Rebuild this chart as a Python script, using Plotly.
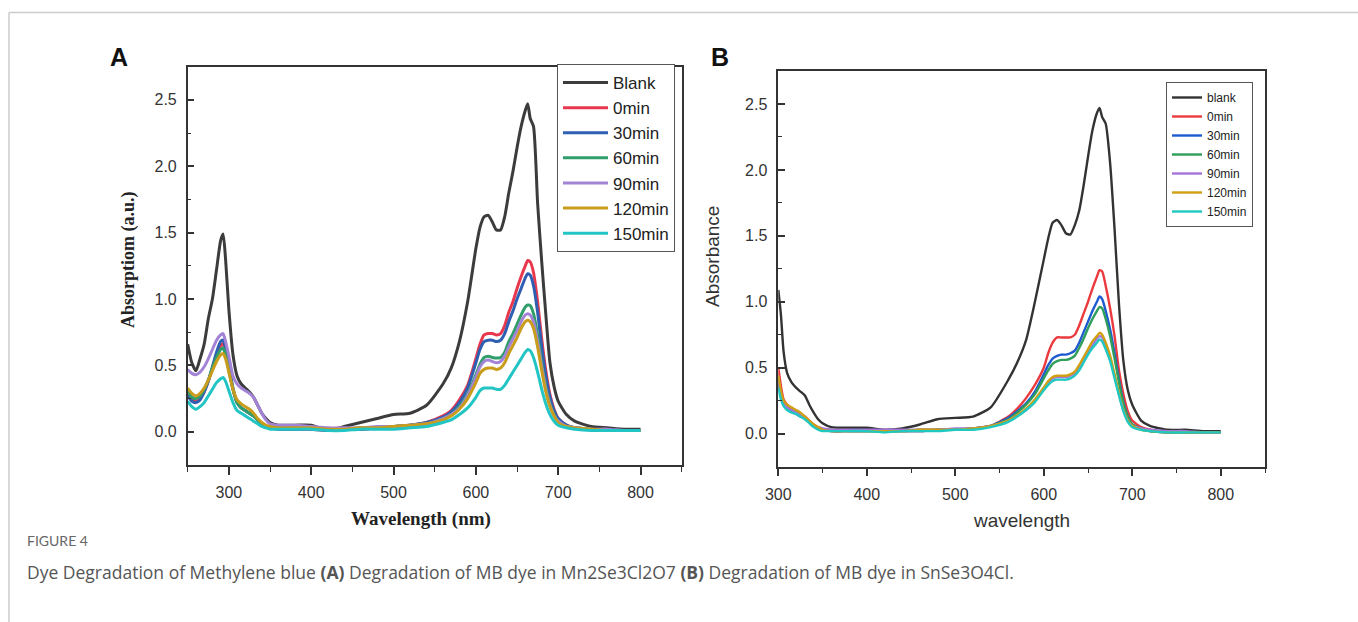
import plotly.graph_objects as go

# ---------------- Panel A data (Mn2Se3Cl2O7) ----------------
wl_a = [250, 255, 260, 265, 270, 275, 280, 285, 290, 293, 296, 300,
        305, 310, 315, 320, 325, 330, 335, 340, 345, 350,
        360, 380, 400, 420, 440, 460, 480, 500, 520, 540,
        560, 570, 580, 590, 600, 605, 610, 615, 620, 625,
        630, 635, 640, 645, 650, 655, 660, 663, 666, 670,
        675, 680, 685, 690, 695, 700, 710, 720, 740, 760, 780, 800]

a_blank = [0.66, 0.52, 0.46, 0.55, 0.66, 0.85, 1.00, 1.22, 1.44, 1.49, 1.30, 0.92,
           0.58, 0.42, 0.36, 0.33, 0.30, 0.26, 0.20, 0.14, 0.10, 0.07,
           0.05, 0.05, 0.05, 0.01, 0.04, 0.07, 0.10, 0.13, 0.14, 0.20,
           0.36, 0.48, 0.68, 0.98, 1.38, 1.54, 1.62, 1.63, 1.58, 1.52,
           1.52, 1.62, 1.80, 1.96, 2.14, 2.30, 2.42, 2.47, 2.36, 2.30,
           1.72, 1.28, 0.88, 0.52, 0.34, 0.23, 0.13, 0.08, 0.04, 0.03, 0.02, 0.02]
a_0 = [0.29, 0.25, 0.23, 0.25, 0.30, 0.38, 0.48, 0.58, 0.65, 0.66, 0.60, 0.48,
       0.32, 0.22, 0.18, 0.16, 0.14, 0.12, 0.09, 0.06, 0.04, 0.03,
       0.02, 0.02, 0.02, 0.01, 0.02, 0.02, 0.03, 0.04, 0.05, 0.07,
       0.12, 0.16, 0.24, 0.35, 0.55, 0.66, 0.73, 0.74, 0.74, 0.73,
       0.74, 0.80, 0.90, 0.98, 1.08, 1.17, 1.25, 1.29, 1.28, 1.20,
       0.98, 0.70, 0.46, 0.28, 0.17, 0.10, 0.05, 0.03, 0.02, 0.01, 0.01, 0.01]
a_30 = [0.27, 0.23, 0.22, 0.24, 0.30, 0.38, 0.49, 0.60, 0.68, 0.69, 0.63, 0.50,
        0.33, 0.22, 0.18, 0.16, 0.14, 0.12, 0.09, 0.06, 0.04, 0.03,
        0.02, 0.02, 0.02, 0.01, 0.02, 0.02, 0.03, 0.04, 0.05, 0.07,
        0.11, 0.15, 0.22, 0.33, 0.52, 0.62, 0.68, 0.69, 0.69, 0.68,
        0.69, 0.74, 0.83, 0.91, 1.00, 1.08, 1.16, 1.19, 1.18, 1.10,
        0.90, 0.64, 0.42, 0.26, 0.16, 0.10, 0.05, 0.03, 0.02, 0.01, 0.01, 0.01]
a_60 = [0.31, 0.26, 0.25, 0.27, 0.32, 0.39, 0.48, 0.56, 0.62, 0.63, 0.58, 0.46,
        0.32, 0.22, 0.18, 0.16, 0.14, 0.12, 0.09, 0.06, 0.04, 0.03,
        0.03, 0.03, 0.03, 0.02, 0.02, 0.03, 0.03, 0.04, 0.05, 0.06,
        0.10, 0.13, 0.19, 0.28, 0.43, 0.51, 0.56, 0.57, 0.56, 0.555,
        0.56, 0.60, 0.68, 0.74, 0.81, 0.88, 0.94, 0.955, 0.95, 0.89,
        0.73, 0.52, 0.34, 0.21, 0.13, 0.08, 0.04, 0.03, 0.02, 0.01, 0.01, 0.01]
a_90 = [0.47, 0.44, 0.43, 0.45, 0.49, 0.55, 0.62, 0.69, 0.73, 0.74, 0.68, 0.57,
        0.42, 0.36, 0.33, 0.31, 0.29, 0.26, 0.20, 0.14, 0.09, 0.06,
        0.05, 0.05, 0.04, 0.03, 0.03, 0.03, 0.04, 0.04, 0.05, 0.06,
        0.10, 0.13, 0.18, 0.27, 0.41, 0.49, 0.53, 0.54, 0.53, 0.52,
        0.53, 0.57, 0.64, 0.70, 0.76, 0.83, 0.88, 0.89, 0.88, 0.83,
        0.68, 0.49, 0.32, 0.20, 0.12, 0.08, 0.04, 0.03, 0.02, 0.02, 0.01, 0.01]
a_120 = [0.33, 0.29, 0.27, 0.29, 0.33, 0.39, 0.46, 0.53, 0.58, 0.59, 0.55, 0.45,
         0.32, 0.24, 0.21, 0.19, 0.17, 0.14, 0.10, 0.07, 0.05, 0.04,
         0.03, 0.03, 0.03, 0.02, 0.02, 0.03, 0.03, 0.04, 0.05, 0.06,
         0.09, 0.12, 0.17, 0.25, 0.37, 0.44, 0.47, 0.48, 0.48, 0.47,
         0.48, 0.52, 0.59, 0.65, 0.71, 0.78, 0.83, 0.84, 0.83, 0.78,
         0.64, 0.46, 0.30, 0.19, 0.12, 0.07, 0.04, 0.03, 0.02, 0.01, 0.01, 0.01]
a_150 = [0.23, 0.19, 0.17, 0.19, 0.22, 0.27, 0.32, 0.37, 0.40, 0.41, 0.38, 0.31,
         0.22, 0.16, 0.14, 0.12, 0.10, 0.08, 0.06, 0.04, 0.03, 0.02,
         0.02, 0.02, 0.02, 0.01, 0.01, 0.02, 0.02, 0.02, 0.03, 0.04,
         0.07, 0.09, 0.13, 0.18, 0.26, 0.31, 0.33, 0.33, 0.33, 0.32,
         0.32, 0.35, 0.40, 0.45, 0.50, 0.55, 0.60, 0.62, 0.61, 0.56,
         0.45, 0.32, 0.21, 0.13, 0.08, 0.05, 0.03, 0.02, 0.01, 0.01, 0.01, 0.01]

# ---------------- Panel B data (SnSe3O4Cl) ----------------
wl_b = [300, 303, 306, 310, 315, 320, 325, 330, 335, 340,
        345, 350, 360, 380, 400, 420, 440, 460, 480, 500,
        520, 540, 560, 570, 580, 590, 600, 605, 610, 615,
        620, 625, 630, 635, 640, 645, 650, 655, 660, 663,
        666, 670, 675, 680, 685, 690, 695, 700, 710, 720,
        740, 760, 780, 800]

b_blank = [1.09, 0.90, 0.62, 0.46, 0.39, 0.35, 0.32, 0.29, 0.22, 0.16,
           0.11, 0.08, 0.05, 0.045, 0.045, 0.03, 0.04, 0.07, 0.11, 0.12,
           0.13, 0.20, 0.41, 0.54, 0.71, 1.00, 1.32, 1.48, 1.60, 1.62,
           1.58, 1.52, 1.51, 1.58, 1.69, 1.88, 2.10, 2.30, 2.43, 2.47,
           2.40, 2.35, 2.05, 1.55, 0.98, 0.55, 0.33, 0.22, 0.10, 0.06,
           0.03, 0.03, 0.02, 0.02]
b_0 = [0.50, 0.36, 0.26, 0.22, 0.19, 0.17, 0.15, 0.13, 0.10, 0.07,
       0.05, 0.03, 0.02, 0.02, 0.02, 0.02, 0.02, 0.02, 0.03, 0.03,
       0.04, 0.06, 0.13, 0.19, 0.27, 0.37, 0.50, 0.61, 0.69, 0.73,
       0.73, 0.73, 0.73, 0.75, 0.82, 0.91, 1.00, 1.10, 1.19, 1.24,
       1.23, 1.12, 0.95, 0.74, 0.48, 0.30, 0.17, 0.10, 0.05, 0.03,
       0.01, 0.01, 0.01, 0.01]
b_30 = [0.38, 0.28, 0.22, 0.19, 0.17, 0.15, 0.13, 0.12, 0.09, 0.06,
        0.04, 0.03, 0.02, 0.02, 0.02, 0.02, 0.02, 0.02, 0.03, 0.03,
        0.04, 0.06, 0.12, 0.17, 0.23, 0.32, 0.45, 0.52, 0.57, 0.59,
        0.60, 0.60, 0.61, 0.63, 0.69, 0.77, 0.85, 0.93, 1.00, 1.04,
        1.02, 0.93, 0.79, 0.61, 0.41, 0.24, 0.13, 0.07, 0.04, 0.02,
        0.01, 0.01, 0.01, 0.01]
b_60 = [0.42, 0.30, 0.23, 0.20, 0.18, 0.16, 0.14, 0.12, 0.09, 0.06,
        0.04, 0.03, 0.03, 0.02, 0.02, 0.02, 0.02, 0.03, 0.03, 0.03,
        0.04, 0.06, 0.11, 0.16, 0.22, 0.30, 0.42, 0.48, 0.53, 0.55,
        0.56, 0.56, 0.57, 0.59, 0.65, 0.72, 0.80, 0.87, 0.93, 0.96,
        0.95, 0.87, 0.74, 0.57, 0.39, 0.23, 0.13, 0.07, 0.04, 0.02,
        0.01, 0.01, 0.01, 0.01]
b_90 = [0.40, 0.29, 0.23, 0.20, 0.18, 0.16, 0.14, 0.12, 0.09, 0.06,
        0.05, 0.04, 0.03, 0.03, 0.03, 0.03, 0.03, 0.03, 0.03, 0.04,
        0.04, 0.06, 0.10, 0.14, 0.18, 0.25, 0.34, 0.39, 0.42, 0.43,
        0.43, 0.43, 0.44, 0.46, 0.51, 0.56, 0.62, 0.67, 0.72, 0.74,
        0.73, 0.67, 0.57, 0.44, 0.30, 0.18, 0.10, 0.06, 0.04, 0.03,
        0.02, 0.02, 0.01, 0.01]
b_120 = [0.44, 0.32, 0.25, 0.22, 0.20, 0.18, 0.16, 0.13, 0.10, 0.07,
         0.05, 0.03, 0.02, 0.02, 0.02, 0.02, 0.02, 0.03, 0.03, 0.03,
         0.04, 0.06, 0.10, 0.14, 0.19, 0.26, 0.35, 0.40, 0.43, 0.44,
         0.44, 0.44, 0.45, 0.47, 0.52, 0.58, 0.64, 0.70, 0.74, 0.765,
         0.75, 0.69, 0.59, 0.45, 0.31, 0.18, 0.10, 0.06, 0.03, 0.02,
         0.01, 0.01, 0.01, 0.01]
b_150 = [0.35, 0.26, 0.21, 0.18, 0.16, 0.15, 0.13, 0.11, 0.08, 0.05,
         0.03, 0.02, 0.02, 0.02, 0.02, 0.01, 0.02, 0.02, 0.02, 0.03,
         0.03, 0.05, 0.09, 0.13, 0.18, 0.24, 0.33, 0.37, 0.40, 0.41,
         0.41, 0.41, 0.42, 0.44, 0.48, 0.54, 0.60, 0.65, 0.69, 0.715,
         0.70, 0.64, 0.55, 0.42, 0.29, 0.17, 0.09, 0.05, 0.03, 0.02,
         0.01, 0.01, 0.01, 0.01]

names_a = ["Blank", "0min", "30min", "60min", "90min", "120min", "150min"]
names_b = ["blank", "0min", "30min", "60min", "90min", "120min", "150min"]
series_a = [a_blank, a_0, a_30, a_60, a_90, a_120, a_150]
series_b = [b_blank, b_0, b_30, b_60, b_90, b_120, b_150]
colors_a = ["#3c3c3c", "#e8384e", "#2f5fb3", "#2f9e6a", "#a283d6", "#c99c1c", "#22c4c4"]
colors_b = ["#333333", "#ea3a3e", "#1e5bd0", "#2e9e5a", "#a474dc", "#d0a012", "#1fc8c0"]

x_ticks = [300, 400, 500, 600, 700, 800]
y_ticks = [0.0, 0.5, 1.0, 1.5, 2.0, 2.5]

W, H = 1358, 622


def px(x):
    return x / W


def py(y):
    return 1 - y / H


fig = go.Figure()
for name, ys, c in zip(names_a, series_a, colors_a):
    fig.add_trace(go.Scatter(x=wl_a, y=ys, name=name, mode="lines",
                             line=dict(color=c, width=3, shape="spline", smoothing=0.6),
                             xaxis="x", yaxis="y", legend="legend"))
for name, ys, c in zip(names_b, series_b, colors_b):
    fig.add_trace(go.Scatter(x=wl_b, y=ys, name=name, mode="lines",
                             line=dict(color=c, width=2.4, shape="spline", smoothing=0.6),
                             xaxis="x2", yaxis="y2", legend="legend2"))

axis_common = dict(showline=True, linecolor="#333333", linewidth=1.5, mirror=True,
                   showgrid=False, zeroline=False, automargin=False,
                   tickfont=dict(family="Liberation Sans, Arial, sans-serif", size=16, color="#333333"),
                   tickcolor="#333333", tickwidth=1.5)

xa = dict(axis_common, tickvals=x_ticks, ticks="outside", ticklen=8,
          ticklabelstandoff=4,
          minor=dict(dtick=50, tick0=250, ticks="outside", ticklen=5, tickcolor="#333333", tickwidth=1.2))
ya = dict(axis_common, tickvals=y_ticks, tickformat=".1f", ticks="inside", ticklen=7,
          ticklabelstandoff=6, range=[-0.25, 2.75],
          minor=dict(dtick=0.25, tick0=0, ticks="inside", ticklen=4, tickcolor="#333333", tickwidth=1.2))

fig.update_layout(
    width=W, height=H, autosize=False,
    margin=dict(l=0, r=0, t=0, b=0, autoexpand=False),
    paper_bgcolor="white", plot_bgcolor="white",
    xaxis=dict(xa, domain=[px(187.7), px(681.7)], range=[250, 850], anchor="y"),
    yaxis=dict(ya, domain=[py(465), py(66.7)], anchor="x"),
    xaxis2=dict(xa, domain=[px(778.3), px(1265)], range=[300, 850], anchor="y2"),
    yaxis2=dict(ya, domain=[py(466.7), py(71)], anchor="x2"),
    legend=dict(x=px(557), y=py(64), xanchor="left", yanchor="top",
                bgcolor="white", bordercolor="#555555", borderwidth=1,
                font=dict(family="Liberation Sans, Arial, sans-serif", size=17, color="#222222"),
                itemwidth=45, tracegroupgap=0),
    legend2=dict(x=px(1166), y=py(82), xanchor="left", yanchor="top",
                 bgcolor="white", bordercolor="#555555", borderwidth=1,
                 font=dict(family="Liberation Sans, Arial, sans-serif", size=12, color="#222222"),
                 itemwidth=30, tracegroupgap=0),
    showlegend=True,
)

annotations = [
    dict(text="<b>A</b>", x=px(119), y=py(57), font=dict(family="Liberation Sans, Arial", size=25, color="#111")),
    dict(text="<b>B</b>", x=px(720), y=py(57), font=dict(family="Liberation Sans, Arial", size=25, color="#111")),
    dict(text="<b>Absorptiom (a.u.)</b>", x=px(128), y=py(260), textangle=-90,
         font=dict(family="Liberation Serif, Times New Roman, serif", size=18, color="#222")),
    dict(text="<b>Wavelength (nm)</b>", x=px(421), y=py(519),
         font=dict(family="Liberation Serif, Times New Roman, serif", size=19, color="#222")),
    dict(text="Absorbance", x=px(712), y=py(257), textangle=-90,
         font=dict(family="Liberation Sans, Arial", size=19, color="#333")),
    dict(text="wavelength", x=px(1021), y=py(520),
         font=dict(family="Liberation Sans, Arial", size=19, color="#333")),
    dict(text="FIGURE 4", x=px(25), y=py(540), xanchor="left",
         font=dict(family="Lato, Open Sans, sans-serif", size=14, color="#666666")),
    dict(text="Dye Degradation of Methylene blue <b>(A)</b> Degradation of MB dye in Mn2Se3Cl2O7 "
              "<b>(B)</b> Degradation of MB dye in SnSe3O4Cl.",
         x=px(25), y=py(572), xanchor="left",
         font=dict(family="Open Sans, sans-serif", size=17.5, color="#555555")),
]
for a in annotations:
    a.setdefault("xanchor", "center")
    a.update(xref="paper", yref="paper", yanchor="middle", showarrow=False)
fig.update_layout(annotations=annotations)

fig.update_layout(shapes=[
    dict(type="line", xref="paper", yref="paper", x0=px(9), x1=1, y0=py(12.5), y1=py(12.5),
         line=dict(color="#cccccc", width=1.5)),
    dict(type="line", xref="paper", yref="paper", x0=px(9), x1=px(9), y0=py(12.5), y1=0,
         line=dict(color="#cccccc", width=1.5)),
])

fig.write_html(
    "out.html",
    config={"displayModeBar": False},
    post_script="document.body.style.margin='0';document.body.style.padding='0';"
                "document.body.style.overflow='hidden';"
                "document.documentElement.style.overflow='hidden';",
)
